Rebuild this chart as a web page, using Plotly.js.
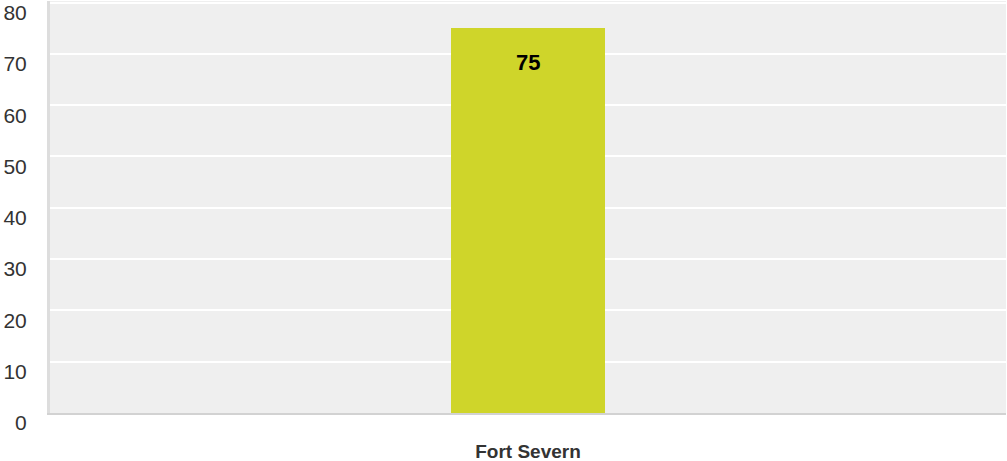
<!DOCTYPE html>
<html><head><meta charset="utf-8">
<script src="https://cdn.plot.ly/plotly-3.0.1.min.js"></script>
<style>html,body{margin:0;padding:0;background:#fff}</style>
</head><body><div id="chart" style="width:1007px;height:461px"></div>
<script>
const categories = ["Fort Severn"];
const values = [75];
const yTicks = [0, 10, 20, 30, 40, 50, 60, 70, 80];

const trace = {
  type: "bar", x: categories, y: values,
  marker: {color: "#cfd52a"}, width: 0.161,
  hoverinfo: "none"
};
const annotations = categories.map((c, i) => ({
  x: c, y: values[i], xref: "x", yref: "y", text: "<b>" + values[i] + "</b>",
  showarrow: false, yanchor: "middle", yshift: -34,
  font: {family: "Liberation Sans, Arial", size: 22, color: "#000"}
}));
const layout = {
  width: 1007, height: 461,
  margin: {l: 50, r: 1, t: 1, b: 48},
  paper_bgcolor: "#fff", plot_bgcolor: "#efefef",
  showlegend: false,
  bargap: 0,
  xaxis: {
    showgrid: false, showline: true, linecolor: "#d2d2d2", linewidth: 2,
    ticks: "", ticklabelstandoff: 20,
    tickfont: {family: "Liberation Sans, Arial", size: 19, color: "#333", weight: "bold"}
  },
  yaxis: {
    range: [0, 80.3], tickvals: yTicks, ticktext: yTicks.map(String),
    showgrid: true, gridcolor: "#ffffff", gridwidth: 2,
    zeroline: false, showline: true, linecolor: "#dddddd", linewidth: 3,
    ticks: "", ticklabelstandoff: 16, ticklabelshift: 10,
    tickfont: {family: "Liberation Sans, Arial", size: 21, color: "#333"}
  },
  annotations: annotations
};
Plotly.newPlot("chart", [trace], layout, {displayModeBar: false, staticPlot: true});
</script></body></html>
